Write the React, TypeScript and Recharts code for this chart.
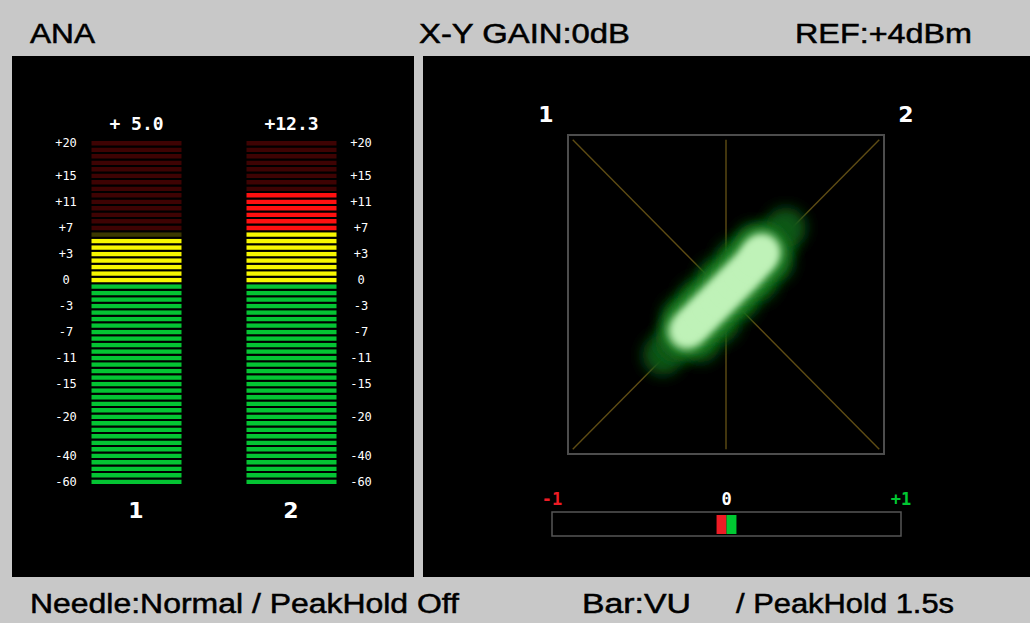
import React from 'react';
import {
  BarChart,
  Bar,
  XAxis,
  YAxis,
  Cell,
  LabelList,
  ScatterChart,
  Scatter,
  ReferenceLine,
  ReferenceArea,
} from 'recharts';

// meter data
const channels = ['1', '2'];
const peakLevels = [5.0, 12.3];
const litSegments = [38, 45];
const segmentCount = 53;
const yellowFrom = 31;
const redFrom = 39;
const scaleLabels = ['+20', '+15', '+11', '+7', '+3', '0', '-3', '-7', '-11', '-15', '-20', '-40', '-60'];
const scaleSegments = [52, 47, 43, 39, 35, 31, 27, 23, 19, 15, 10, 4, 0];

// lissajous (x-y) cloud in -1..1 units
const cloudHalo = [
  { x: -0.4, y: -0.38 }, { x: -0.32, y: -0.3 }, { x: -0.24, y: -0.22 },
  { x: -0.16, y: -0.14 }, { x: -0.08, y: -0.06 }, { x: 0.0, y: 0.02 },
  { x: 0.08, y: 0.1 }, { x: 0.16, y: 0.18 }, { x: 0.24, y: 0.26 },
  { x: 0.32, y: 0.34 }, { x: 0.38, y: 0.42 },
  { x: -0.28, y: -0.14 }, { x: -0.18, y: -0.03 }, { x: -0.06, y: 0.1 },
  { x: 0.06, y: 0.22 }, { x: 0.18, y: 0.32 },
  { x: -0.16, y: -0.3 }, { x: -0.04, y: -0.18 }, { x: 0.08, y: -0.04 },
  { x: 0.2, y: 0.08 }, { x: 0.3, y: 0.2 },
];
const cloudCore = [
  { x: -0.25, y: -0.23 }, { x: -0.2, y: -0.18 }, { x: -0.15, y: -0.13 },
  { x: -0.1, y: -0.08 }, { x: -0.05, y: -0.03 }, { x: 0.0, y: 0.02 },
  { x: 0.05, y: 0.07 }, { x: 0.1, y: 0.12 }, { x: 0.15, y: 0.17 },
  { x: 0.2, y: 0.23 }, { x: 0.23, y: 0.27 },
];
const scopeGuides = [
  [-0.97, 0.97, 0.97, -0.97],
  [-0.97, -0.97, 0.97, 0.97],
  [0, -0.97, 0, 0.97],
];

// phase correlation bar
const phaseTicks = [-1, 0, 1];
const phaseTickLabels = ['-1', '0', '+1'];
const phaseTickColors = ['#ee1c25', '#ffffff', '#00c832'];
const phaseNegative = -0.057;
const phasePositive = 0.057;

const meterRows = channels.map((ch, c) => {
  const row: Record<string, number | string> = { ch, level: peakLevels[c] };
  for (let i = 0; i < segmentCount; i++) row[`s${i}`] = 1;
  return row;
});

const phaseRows = [{ name: 'phase', neg: phaseNegative, pos: phasePositive }];

function segmentColor(c: number, i: number) {
  const lit = i < litSegments[c];
  if (i >= redFrom) return lit ? '#ff1010' : '#3e0303';
  if (i >= yellowFrom) return lit ? '#f7f700' : '#3b3800';
  return lit ? '#04c433' : '#023a0e';
}

function formatLevel(v: number) {
  return (v >= 0 ? '+' : '-') + Math.abs(v).toFixed(1).padStart(4, ' ');
}

const mono = '"DejaVu Sans Mono", monospace';
const narrow = '"Liberation Sans Narrow", "Liberation Sans", Arial, sans-serif';

// same scale printed on both sides of the meter pair
const scaleTick = (props: any) => {
  const idx = scaleSegments.indexOf(Math.round(props.payload.value - 0.5));
  return (
    <g fill="#fff" fontFamily={mono} fontSize={12} textAnchor="middle">
      <text x={54} y={props.y} dy={4}>{scaleLabels[idx]}</text>
      <text x={349} y={props.y} dy={4}>{scaleLabels[idx]}</text>
    </g>
  );
};

const channelTick = (props: any) => (
  <text x={props.x} y={462} textAnchor="middle" fill="#fff" fontFamily='"DejaVu Sans", sans-serif' fontWeight="bold" fontSize={22}>
    {props.payload.value}
  </text>
);

const readout = (props: any) => (
  <text
    x={props.x + props.width / 2}
    y={props.y - 10}
    textAnchor="middle"
    fill="#fff"
    fontFamily={mono}
    fontWeight="bold"
    fontSize={18}
    style={{ whiteSpace: 'pre' }}
  >
    {formatLevel(props.value)}
  </text>
);

const phaseTick = (props: any) => {
  const i = phaseTicks.indexOf(props.payload.value);
  return (
    <text x={props.x} y={20} textAnchor="middle" fill={phaseTickColors[i]} fontFamily={mono} fontWeight="bold" fontSize={17}>
      {phaseTickLabels[i]}
    </text>
  );
};

const haloShape = (props: any) => (
  <circle cx={props.cx} cy={props.cy} r={20} fill="#0c5412" filter="url(#cloudBlurWide)" />
);
const midShape = (props: any) => (
  <circle cx={props.cx} cy={props.cy} r={25} fill="#1e7c24" filter="url(#cloudBlurWide)" />
);
const coreShape = (props: any) => (
  <circle cx={props.cx} cy={props.cy} r={18} fill="#bff2b8" filter="url(#cloudBlur)" />
);

export default function App() {
  return (
    <div style={{ position: 'absolute', left: 0, top: 0, width: 1030, height: 623, background: '#c8c8c8', overflow: 'hidden' }}>
      <div style={{ position: 'absolute', left: 12, top: 56, width: 402, height: 521, background: '#000' }}>
        <BarChart width={402} height={521} data={meterRows} margin={{ top: 84, right: 45.5, bottom: 62, left: 45.5 }}>
          <XAxis dataKey="ch" height={30} axisLine={false} tickLine={false} tick={channelTick} />
          <YAxis
            type="number"
            domain={[0, segmentCount]}
            ticks={scaleSegments.map((s) => s + 0.5)}
            interval={0}
            width={1}
            axisLine={false}
            tickLine={false}
            tick={scaleTick}
          />
          {Array.from({ length: segmentCount }, (_, i) => (
            <Bar key={i} dataKey={`s${i}`} stackId="m" barSize={92} stroke="#000" strokeWidth={2} isAnimationActive={false}>
              {meterRows.map((_, c) => (
                <Cell key={c} fill={segmentColor(c, i)} />
              ))}
              {i === segmentCount - 1 && <LabelList dataKey="level" content={readout} />}
            </Bar>
          ))}
        </BarChart>
      </div>

      <div style={{ position: 'absolute', left: 423, top: 56, width: 607, height: 521, background: '#000' }}>
        <div style={{ position: 'absolute', left: 0, top: 0 }}>
          <ScatterChart width={607} height={521} margin={{ top: 79, right: 146, bottom: 123, left: 145 }}>
            <XAxis type="number" dataKey="x" domain={[-1, 1]} hide />
            <YAxis type="number" dataKey="y" domain={[-1, 1]} hide />
            <ReferenceArea x1={-1} x2={1} y1={-1} y2={1} stroke="#4d4d4d" strokeWidth={2} fill="none" />
            {scopeGuides.map((g, k) => (
              <ReferenceLine
                key={k}
                segment={[{ x: g[0], y: g[1] }, { x: g[2], y: g[3] }]}
                stroke="#5e4c14"
                strokeWidth={1.4}
              />
            ))}
            <Scatter data={cloudHalo} shape={haloShape} isAnimationActive={false} />
            <Scatter data={cloudCore} shape={midShape} isAnimationActive={false} />
            <Scatter data={cloudCore} shape={coreShape} isAnimationActive={false} />
          </ScatterChart>
        </div>
        <div style={{ position: 'absolute', left: 117, top: 429 }}>
          <BarChart
            layout="vertical"
            width={375}
            height={60}
            data={phaseRows}
            stackOffset="sign"
            margin={{ top: 26, right: 14, bottom: 9, left: 12 }}
          >
            <XAxis
              type="number"
              domain={[-1, 1]}
              ticks={phaseTicks}
              interval={0}
              orientation="top"
              height={1}
              axisLine={false}
              tickLine={false}
              tick={phaseTick}
            />
            <YAxis type="category" dataKey="name" hide />
            <ReferenceArea x1={-1} x2={1} stroke="#555" strokeWidth={1.5} fill="none" />
            <Bar dataKey="neg" stackId="p" fill="#ee1c25" barSize={19} isAnimationActive={false} />
            <Bar dataKey="pos" stackId="p" fill="#00c832" barSize={19} isAnimationActive={false} />
          </BarChart>
        </div>
      </div>

      <svg width={1030} height={623} style={{ position: 'absolute', left: 0, top: 0, pointerEvents: 'none' }}>
        <defs>
          <filter id="cloudBlurWide" x="-100%" y="-100%" width="300%" height="300%">
            <feGaussianBlur stdDeviation="7" />
          </filter>
          <filter id="cloudBlur" x="-100%" y="-100%" width="300%" height="300%">
            <feGaussianBlur stdDeviation="4.5" />
          </filter>
        </defs>
        <g fontFamily={narrow} fontSize={27} fill="#000" stroke="#000" strokeWidth={0.5}>
          <text x={30} y={43} textLength={65} lengthAdjust="spacingAndGlyphs">ANA</text>
          <text x={419} y={43} textLength={211} lengthAdjust="spacingAndGlyphs">X-Y GAIN:0dB</text>
          <text x={795} y={43} textLength={177} lengthAdjust="spacingAndGlyphs">REF:+4dBm</text>
          <text x={30} y={613} textLength={429} lengthAdjust="spacingAndGlyphs">Needle:Normal / PeakHold Off</text>
          <text x={582} y={613} textLength={109} lengthAdjust="spacingAndGlyphs">Bar:VU</text>
          <text x={736} y={613} textLength={218} lengthAdjust="spacingAndGlyphs">/ PeakHold 1.5s</text>
        </g>
        <g fontFamily='"DejaVu Sans", sans-serif' fontWeight="bold" fontSize={22} fill="#fff" textAnchor="middle">
          <text x={546} y={122}>1</text>
          <text x={906} y={122}>2</text>
        </g>
      </svg>
    </div>
  );
}
